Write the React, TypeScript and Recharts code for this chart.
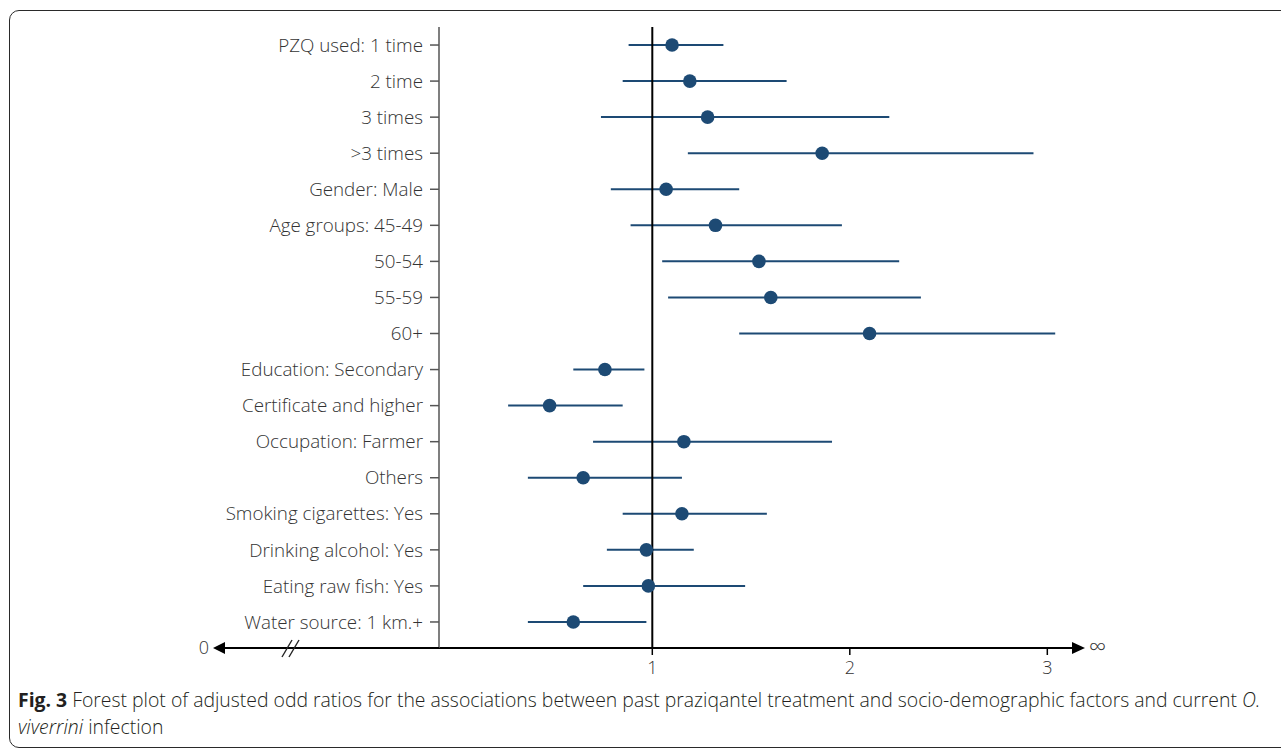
import { Bar, ComposedChart, ReferenceLine, Scatter, XAxis, YAxis } from "recharts";

const LABELS = [
  "PZQ used: 1 time",
  "2 time",
  "3 times",
  ">3 times",
  "Gender: Male",
  "Age groups: 45-49",
  "50-54",
  "55-59",
  "60+",
  "Education: Secondary",
  "Certificate and higher",
  "Occupation: Farmer",
  "Others",
  "Smoking cigarettes: Yes",
  "Drinking alcohol: Yes",
  "Eating raw fish: Yes",
  "Water source: 1 km.+",
];
const ODDS = [1.1, 1.19, 1.28, 1.86, 1.07, 1.32, 1.54, 1.6, 2.1, 0.76, 0.48, 1.16, 0.65, 1.15, 0.97, 0.98, 0.6];
const CI_LOW = [0.88, 0.85, 0.74, 1.18, 0.79, 0.89, 1.05, 1.08, 1.44, 0.6, 0.27, 0.7, 0.37, 0.85, 0.77, 0.65, 0.37];
const CI_HIGH = [1.36, 1.68, 2.2, 2.93, 1.44, 1.96, 2.25, 2.36, 3.04, 0.96, 0.85, 1.91, 1.15, 1.58, 1.21, 1.47, 0.97];

const AXIS_MIN = -0.08;
const AXIS_MAX = 3.125;
const X_TICKS = [AXIS_MIN, 1, 2, 3, AXIS_MAX];

const NAVY = "#1d4a74";
const FONT = "'Open Sans', sans-serif";

const rows = LABELS.map((label, i) => ({ label, or: ODDS[i], lo: CI_LOW[i], hi: CI_HIGH[i] }));

function Dot(props: any) {
  return <circle cx={props.cx} cy={props.cy} r={6.8} fill={NAVY} />;
}

function XTick({ x, y, payload }: any) {
  const v = payload.value;
  if (v === AXIS_MIN) {
    // broken part of the axis running on to the "0" end
    const b = x - 148;
    return (
      <g>
        <line x1={x - 217} y1={y} x2={x} y2={y} stroke="#000" strokeWidth={2} />
        <polygon points={`${x - 226},${y} ${x - 214},${y - 6} ${x - 214},${y + 6}`} fill="#000" />
        <text x={x - 230} y={y} dy={6} textAnchor="end" fontSize={18} fill="#333" fontFamily={FONT} fontWeight={300}>
          0
        </text>
        <line x1={b - 9} y1={y + 9} x2={b + 1} y2={y - 8} stroke="#222" strokeWidth={1.4} />
        <line x1={b - 2} y1={y + 9} x2={b + 8} y2={y - 8} stroke="#222" strokeWidth={1.4} />
      </g>
    );
  }
  if (v === AXIS_MAX) {
    return (
      <g>
        <polygon points={`${x + 13},${y} ${x},${y - 6} ${x},${y + 6}`} fill="#000" />
        <text x={x + 17} y={y} dy={7} textAnchor="start" fontSize={24} fill="#333" fontFamily={FONT} fontWeight={300}>
          ∞
        </text>
      </g>
    );
  }
  return (
    <g>
      <line x1={x} y1={y} x2={x} y2={y + 7} stroke="#000" strokeWidth={1.5} />
      <text x={x} y={y} dy={26} textAnchor="middle" fontSize={18} fill="#333" fontFamily={FONT} fontWeight={300}>
        {v}
      </text>
    </g>
  );
}

export default function App() {
  return (
    <div style={{ position: "relative", width: 1281, height: 749, overflow: "hidden", background: "#fff" }}>
      <style>{`body{margin:0;overflow:hidden}`}</style>
      <div
        style={{
          position: "absolute",
          left: 9,
          top: 10,
          width: 1320,
          height: 736,
          border: "1.5px solid #2a2a2a",
          borderRadius: 10,
        }}
      />
      <div style={{ position: "absolute", left: 0, top: 0 }}>
        <ComposedChart
          width={1281}
          height={690}
          layout="vertical"
          data={rows}
          margin={{ top: 27, right: 209, bottom: 0, left: 0 }}
          style={{ fontFamily: FONT }}
        >
          <XAxis
            type="number"
            domain={[AXIS_MIN, AXIS_MAX]}
            allowDataOverflow
            ticks={X_TICKS}
            interval={0}
            tickSize={0}
            tickMargin={0}
            tickLine={false}
            axisLine={{ stroke: "#000", strokeWidth: 2 }}
            tick={<XTick />}
            height={42}
          />
          <YAxis
            type="category"
            dataKey="label"
            width={439}
            interval={0}
            tickSize={9}
            tickMargin={7}
            padding={{ top: 0, bottom: 8 }}
            axisLine={{ stroke: "#555", strokeWidth: 1.5 }}
            tickLine={{ stroke: "#555", strokeWidth: 1.5 }}
            tick={{ fill: "#333", fontSize: 18.8, fontWeight: 300, fontFamily: FONT }}
          />
          <ReferenceLine x={1} stroke="#000" strokeWidth={2} />
          <Bar dataKey={(d: any) => [d.lo, d.hi]} barSize={2} fill={NAVY} isAnimationActive={false} />
          <Scatter dataKey="or" shape={<Dot />} isAnimationActive={false} />
        </ComposedChart>
      </div>
      <div
        style={{
          position: "absolute",
          left: 18,
          top: 686,
          fontFamily: FONT,
          fontSize: 19.4,
          lineHeight: "27px",
          color: "#231f20",
          whiteSpace: "nowrap",
          fontWeight: 300,
        }}
      >
        <b style={{ fontWeight: 700 }}>Fig. 3</b> Forest plot of adjusted odd ratios for the associations between past
        praziqantel treatment and socio-demographic factors and current <i>O.</i>
        <br />
        <i>viverrini</i> infection
      </div>
    </div>
  );
}
